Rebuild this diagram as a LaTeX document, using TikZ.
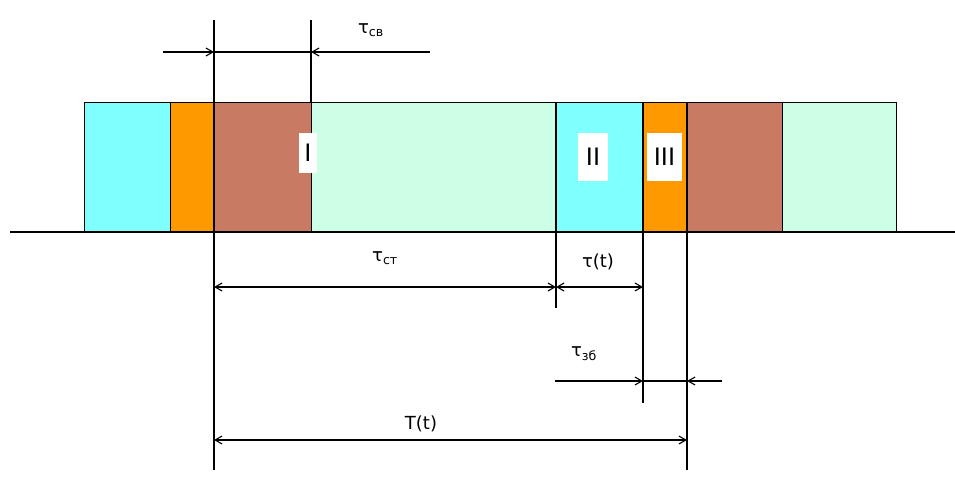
\documentclass[tikz,border=0pt]{standalone}
\usepackage{fontspec}
\setmainfont{DejaVu Sans}
\usetikzlibrary{arrows.meta}

\definecolor{segcyan}{HTML}{80FFFF}
\definecolor{segorange}{HTML}{FF9900}
\definecolor{segbrown}{HTML}{C87B62}
\definecolor{seggreen}{HTML}{CCFFE6}

\begin{document}
\begin{tikzpicture}[x=1pt, y=-1pt, line width=1.1pt,
    >={Straight Barb[length=7pt, width=8pt]},
    seg/.style={draw, line width=1pt},
    lbl/.style={font=\fontsize{18}{20}\selectfont},
    numbox/.style={fill=white, inner sep=0pt, font=\fontsize{24}{26}\selectfont}]

    \useasboundingbox (0,0) rectangle (955,480);

    % Segmen pita waktu
    \draw[seg, fill=segcyan]   (84,102)  rectangle (170,232);
    \draw[seg, fill=segorange] (170,102) rectangle (214,232);
    \draw[seg, fill=segbrown]  (214,102) rectangle (311,232);
    \draw[seg, fill=seggreen]  (311,102) rectangle (556,232);
    \draw[seg, fill=segcyan]   (556,102) rectangle (643,232);
    \draw[seg, fill=segorange] (643,102) rectangle (687,232);
    \draw[seg, fill=segbrown]  (687,102) rectangle (782,232);
    \draw[seg, fill=seggreen]  (782,102) rectangle (896,232);

    % Label segmen (kotak putih)
    \node[numbox, minimum width=18pt, minimum height=40pt] (s1) at (308,153) {I};
    \node[numbox, minimum width=30pt, minimum height=48pt] (s2) at (593,157) {II};
    \node[numbox, minimum width=35pt, minimum height=48pt] (s3) at (664.5,157) {III};

    % Sumbu waktu
    \coordinate (ax0) at (10,232);
    \coordinate (ax1) at (955,232);
    \draw (ax0) -- (ax1);

    % Garis bantu vertikal
    \coordinate (va1) at (214,20);  \coordinate (va2) at (214,470);
    \coordinate (vb1) at (311,20);  \coordinate (vb2) at (311,102);
    \coordinate (vc1) at (556,102); \coordinate (vc2) at (556,308);
    \coordinate (vd1) at (643,102); \coordinate (vd2) at (643,403);
    \coordinate (ve1) at (687,102); \coordinate (ve2) at (687,470);
    \draw (va1) -- (va2);
    \draw (vb1) -- (vb2);
    \draw (vc1) -- (vc2);
    \draw (vd1) -- (vd2);
    \draw (ve1) -- (ve2);

    % Dimensi tau_sv
    \coordinate (sv0) at (163,52); \coordinate (sv1) at (214,52);
    \coordinate (sv2) at (311,52); \coordinate (sv3) at (430,52);
    \draw[->] (sv0) -- (sv1);
    \draw (sv1) -- (sv2);
    \draw[->] (sv3) -- (sv2);
    \node[lbl] (tsv) at (371,30) {τ\textsubscript{св}};

    % Dimensi tau_st dan tau(t)
    \coordinate (st0) at (214,287); \coordinate (st1) at (556,287);
    \coordinate (tt1) at (643,287);
    \draw[<->] (st0) -- (st1);
    \draw[<->] (st1) -- (tt1);
    \node[lbl] (tst) at (385,258) {τ\textsubscript{ст}};
    \node[lbl] (ttau) at (598,262) {τ(t)};

    % Dimensi tau_zb
    \coordinate (zb0) at (555,381); \coordinate (zb1) at (643,381);
    \coordinate (zb2) at (687,381); \coordinate (zb3) at (722,381);
    \draw[->] (zb0) -- (zb1);
    \draw (zb1) -- (zb2);
    \draw[->] (zb3) -- (zb2);
    \node[lbl] (tzb) at (584,354) {τ\textsubscript{зб}};

    % Dimensi T(t)
    \coordinate (T0) at (214,440); \coordinate (T1) at (687,440);
    \draw[<->] (T0) -- (T1);
    \node[lbl] (tT) at (421,424) {T(t)};

\end{tikzpicture}
\end{document}
